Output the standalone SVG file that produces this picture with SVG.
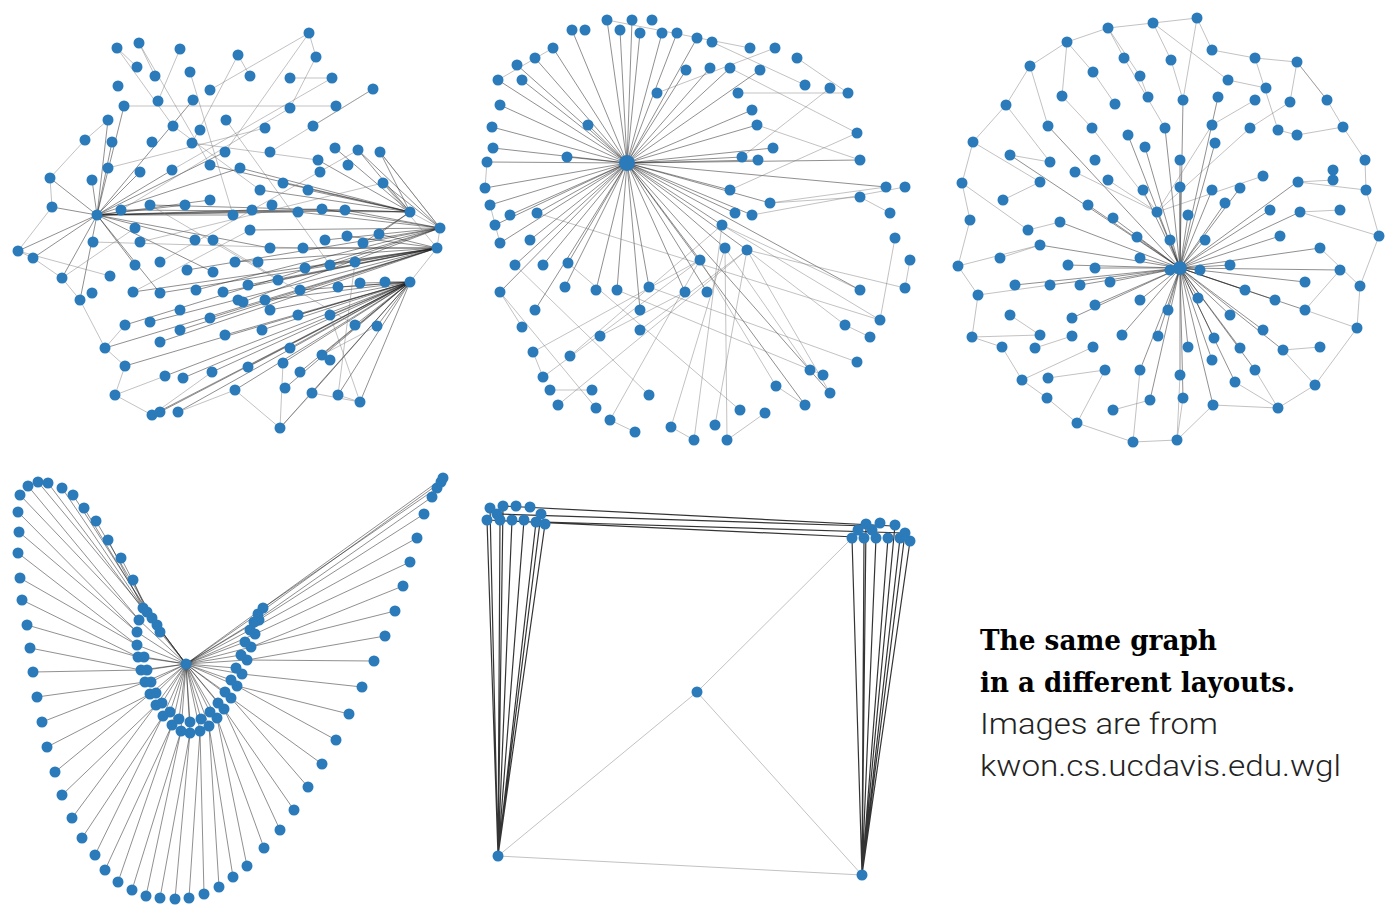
<svg xmlns="http://www.w3.org/2000/svg" width="1400" height="922" viewBox="0 0 1400 922">
<style>
.dk{stroke:#222;stroke-opacity:.5;stroke-width:1;fill:none}
.lt{stroke:#777;stroke-opacity:.45;stroke-width:1;fill:none}
.bk{stroke:#111;stroke-opacity:.85;stroke-width:1.2;fill:none}
.b{font-family:"DejaVu Serif","Liberation Serif",serif;font-weight:bold;font-size:27px;fill:#000}
.l{font-family:Roboto,"Liberation Sans",sans-serif;font-weight:300;font-size:29px;fill:#222}
</style>
<defs><circle id="d" r="5.5" fill="#2b7bba"/></defs>
<rect width="1400" height="922" fill="#fff"/>
<g id="connectors">
<path class="dk" d="M97 215L50 178M97 215L52 207M97 215L18 251M97 215L33 258M97 215L92 180M97 215L108 120M97 215L124 106M97 215L140 172M97 215L172 170M97 215L185 205M97 215L210 200M97 215L233 215M97 215L252 210M97 215L270 248M97 215L298 212M97 215L195 240M97 215L213 272M97 215L160 293M97 215L135 265M97 215L322 209M97 215L345 210M97 215L112 142M97 215L62 278M97 215L80 300M97 215L193 100M97 215L225 152M97 215L240 168"/>
<path class="dk" d="M440 228L298 212M440 228L322 209M440 228L345 210M437 248L303 248M440 228L325 240M437 248L347 236M440 228L363 243M437 248L379 234M437 248L270 248M440 228L250 230M437 248L278 280M437 248L305 268M440 228L330 265M437 248L355 262M437 248L248 285M437 248L223 292M440 228L196 290M437 248L160 293M437 248L133 292M437 248L180 330M437 248L150 322M440 228L125 325M437 248L210 318M440 228L243 302M437 248L105 348M437 248L160 342M440 228L383 183M440 228L380 152M440 228L358 150M440 228L187 270M437 248L235 262"/>
<path class="dk" d="M410 282L385 282M410 282L360 283M410 282L338 287M410 282L300 290M410 282L265 300M410 282L270 310M410 282L298 315M410 282L330 315M410 282L355 325M410 282L377 326M410 282L322 355M410 282L290 348M410 282L262 330M410 282L225 335M410 282L183 378M410 282L165 376M410 282L212 372M410 282L248 367M410 282L283 363M410 282L300 372M410 282L178 412M410 282L160 412M410 282L152 415M410 282L235 390M410 282L285 388M410 282L312 393M410 282L338 395M410 282L360 402M410 282L280 428M410 282L125 366"/>
<path class="dk" d="M410 212L383 183M410 212L380 152M410 212L358 150M410 212L335 148M410 212L318 160M410 212L308 190M410 212L283 183M410 212L260 190M410 212L240 168M410 212L210 165M410 212L345 210M410 212L379 234M410 212L363 243M410 212L150 205M410 212L121 210"/>
<path class="lt" d="M117 48L137 67M139 43L155 76M180 49L158 101M238 55L250 76M309 33L316 57M316 57L290 108M309 33L210 90M373 89L313 126M332 78L290 78M18 251L33 258M33 258L62 278M62 278L80 300M80 300L105 348M105 348L125 366M125 366L115 395M115 395L152 415M178 412L235 390M235 390L280 428M280 428L312 393M312 393L360 402M338 395L360 402M50 178L52 207M18 251L52 207M85 140L50 178M108 120L85 140M380 152L440 228M383 183L437 248M410 212L440 228M440 228L437 248M437 248L410 282M108 168L265 128M124 106L336 106M192 143L318 160M140 242L383 183M93 242L303 248M160 262L358 150M133 292L250 230M213 240L355 325M150 205L278 280M121 210L290 108M173 126L260 190M226 120L330 265M190 72L233 215M139 43L210 165M117 48L173 126M238 55L192 143M309 33L225 152M373 89L270 152M332 78L172 170M18 251L110 276M62 278L135 228M125 325L105 348M115 395L165 376M152 415L212 372M280 428L283 363M360 402L330 315M338 395L355 262M322 355L377 326"/>
<path class="dk" d="M627 163L607 20M627 163L632 20M627 163L572 30M627 163L620 30M627 163L640 33M627 163L662 33M627 163L677 33M627 163L697 38M627 163L553 48M627 163L535 58M627 163L517 65M627 163L498 80M627 163L522 80M627 163L686 70M627 163L710 68M627 163L730 68M627 163L760 70M627 163L500 105M627 163L752 110M627 163L492 127M627 163L757 125M627 163L588 125M627 163L493 148M627 163L773 148M627 163L487 162M627 163L567 157M627 163L742 157M627 163L758 160M627 163L485 188M627 163L730 190M627 163L490 205M627 163L770 203M627 163L510 215M627 163L537 213M627 163L735 213M627 163L752 215M627 163L495 225M627 163L500 243M627 163L725 248M627 163L722 225M627 163L747 250M627 163L530 240M627 163L515 265M627 163L543 265M627 163L568 263M627 163L700 260M627 163L596 290M627 163L617 290M627 163L649 287M627 163L685 292M627 163L707 292M627 163L565 287M627 163L640 310M627 163L500 292M627 163L535 310M627 163L860 290M627 163L805 405M627 163L830 393M627 163L860 160M627 163L886 187"/>
<path class="lt" d="M747 250L830 393M747 250L905 288M722 225L860 290M700 260L610 420M725 248L810 370M568 263L740 410M515 265L649 395M500 292L596 408M730 190L857 133M770 203L886 187M730 68L857 133M797 58L848 93M712 42L805 85M607 20L750 48M553 48L498 80M487 162L485 188M490 205L500 243M500 292L522 327M533 352L543 377M550 390L592 390M610 420L635 432M671 427L694 440M727 440L765 413M776 386L805 405M845 325L870 337M880 320L895 238M910 260L905 288M860 197L890 213M757 125L860 160M742 157L830 88M722 225L570 356M747 250L640 330M700 260L543 377M725 248L671 427M747 250L715 425M700 260L776 386M649 287L857 362M617 290L823 375M685 292L600 336M537 213L880 320M752 215L905 187M770 203L860 197M738 93L848 93M657 93L775 48M747 250L558 405M725 248L727 440M722 225L694 440M700 260L533 352M747 250L845 325M722 225L880 320"/>
<path class="dk" d="M1180 268L1143 190M1180 268L1180 187M1180 268L1212 190M1180 268L1240 188M1180 268L1157 212M1180 268L1188 215M1180 268L1225 203M1180 268L1270 210M1180 268L1300 212M1180 268L1113 218M1180 268L1088 205M1180 268L1060 222M1180 268L1137 237M1180 268L1170 240M1180 268L1205 240M1180 268L1230 265M1180 268L1280 236M1180 268L1320 248M1180 268L1340 270M1180 268L1068 265M1180 268L1095 268M1180 268L1040 245M1180 268L1110 282M1180 268L1140 258M1180 268L1170 270M1180 268L1200 270M1180 268L1245 290M1180 268L1275 300M1180 268L1305 282M1180 268L1140 300M1180 268L1168 310M1180 268L1198 298M1180 268L1230 315M1180 268L1263 330M1180 268L1305 310M1180 268L1122 335M1180 268L1158 336M1180 268L1188 347M1180 268L1214 338M1180 268L1240 348M1180 268L1283 350M1180 268L1140 370M1180 268L1180 375M1180 268L1212 360M1180 268L1235 382M1180 268L1255 370M1180 268L1213 405M1180 268L1183 398M1180 268L1150 400M1180 268L1165 128M1180 268L1180 160M1180 268L1145 147M1180 268L1215 143M1180 268L1128 135M1180 268L1183 100M1180 268L1080 285M1180 268L1095 305M1180 268L1072 318M1180 268L1050 285M1180 268L1015 285M1180 268L1010 155M1180 268L1048 126M1180 268L1218 97M1180 268L1297 182"/>
<path class="lt" d="M1108 28L1153 23M1153 23L1197 18M1067 42L1108 28M1030 66L1067 42M1006 105L1030 66M973 142L1006 105M962 183L973 142M970 220L962 183M958 266L970 220M978 295L958 266M972 337L978 295M1002 347L972 337M1022 380L1002 347M1047 398L1022 380M1077 423L1047 398M1133 442L1077 423M1177 440L1133 442M1213 405L1177 440M1278 408L1315 385M1315 385L1357 328M1357 328L1360 286M1360 286L1379 236M1379 236L1366 190M1366 190L1365 160M1365 160L1343 127M1343 127L1327 100M1327 100L1297 62M1297 62L1255 58M1255 58L1212 50M1212 50L1197 18M1124 58L1165 128M1171 60L1183 100M1093 72L1115 104M1062 96L1092 128M1010 155L1050 162M1003 200L1040 182M1028 230L1060 222M1000 258L1040 245M1010 315L1040 335M1035 348L1072 336M1048 378L1105 370M1113 410L1150 400M1235 382L1278 408M1283 350L1320 347M1305 310L1340 270M1300 212L1340 210M1298 182L1333 180M1278 130L1297 135M1250 128L1290 102M1212 125L1255 100M1140 76L1148 97M1228 80L1266 88M1157 212L1108 180M1157 212L1075 172M1157 212L1212 125M1157 212L1092 128M1157 212L1250 128M1157 212L1263 176M1108 28L1124 58M1153 23L1171 60M1067 42L1093 72M1297 62L1290 102M1213 405L1278 408M1177 440L1183 398M1108 28L1140 76M1197 18L1183 100M1153 23L1228 80M1067 42L1062 96M1030 66L1048 126M1255 58L1278 130M1297 62L1327 100M1006 105L1050 162M973 142L1040 182M962 183L1028 230M958 266L1040 245M978 295L1050 285M972 337L1040 335M1022 380L1093 347M1077 423L1105 370M1133 442L1140 370M1177 440L1180 375M1278 408L1255 370M1315 385L1283 350M1357 328L1305 310M1360 286L1320 248M1379 236L1300 212M1366 190L1298 182M1343 127L1297 135"/>
<path class="dk" d="M186 664L143 608M186 664L139 620M186 664L137 632M186 664L137 645M186 664L138 657M186 664L141 670M186 664L145 682M186 664L150 694M186 664L156 705M186 664L163 716M186 664L172 725M186 664L181 731M186 664L190 733M186 664L200 731M186 664L209 726M186 664L217 718M186 664L224 709M186 664L231 698M186 664L237 686M186 664L242 674M186 664L247 660M186 664L251 647M186 664L255 634M186 664L259 620M186 664L263 608M186 664L147 612M186 664L152 618M186 664L157 625M186 664L160 632M186 664L258 614M186 664L254 622M186 664L250 630M186 664L144 657M186 664L147 670M186 664L151 682M186 664L156 693M186 664L162 703M186 664L170 712M186 664L179 719M186 664L190 722M186 664L201 719M186 664L210 712M186 664L218 703M186 664L225 692M186 664L231 680M186 664L236 668M186 664L241 655M186 664L245 642"/>
<path class="dk" d="M133 580L147 612M121 558L152 618M108 540L143 608M96 521L157 625M84 508L147 612M73 495L152 618M62 488L143 608M48 483L160 632M38 482L143 608M28 486L139 620M20 495L139 620M18 512L137 632M19 532L137 632M18 553L137 645M20 578L137 645M22 600L138 657M27 625L138 657M30 648L141 670M33 672L141 670M37 697L145 682M42 722L145 682M47 747L150 694M55 772L150 694M62 795L156 705M72 818L156 705M82 838L163 716M95 855L163 716M105 870L172 725M118 882L172 725M132 890L181 731M146 896L181 731M160 898L190 733M175 899L190 733M189 898L200 731M204 894L200 731M219 887L209 726M233 877L209 726M247 866L217 718M264 848L217 718M280 830L224 709M294 810L224 709M308 787L231 698M322 764L231 698M336 740L237 686M349 714L237 686M362 687L242 674M374 661L247 660M385 636L247 660M395 611L251 647M403 586L251 647M410 562L255 634M417 538L250 630M424 514L259 620M432 497L254 622M437 488L263 608M441 482L258 614M443 478L263 608"/>
<path class="bk" d="M498 856L487 520M498 856L500 520M498 856L512 520M498 856L524 520M498 856L536 522M498 856L545 524M498 856L490 508M498 856L503 506M498 856L541 514M862 875L852 538M862 875L864 538M862 875L876 538M862 875L888 538M862 875L900 538M862 875L910 541M862 875L866 524M862 875L895 525M862 875L905 533M503 506L893 526M497 514L866 526M487 520L855 537M545 522L905 533"/>
<path class="lt" d="M498 856L697 692M697 692L852 538M697 692L862 875M498 856L862 875"/>
</g>
<g id="nodes" fill="#2b7bba">
<g id="panel1">
<use href="#d" x="117" y="48"/><use href="#d" x="139" y="43"/><use href="#d" x="180" y="49"/><use href="#d" x="238" y="55"/><use href="#d" x="309" y="33"/><use href="#d" x="316" y="57"/><use href="#d" x="137" y="67"/><use href="#d" x="118" y="86"/><use href="#d" x="155" y="76"/><use href="#d" x="190" y="72"/><use href="#d" x="210" y="90"/><use href="#d" x="250" y="76"/><use href="#d" x="290" y="78"/><use href="#d" x="332" y="78"/><use href="#d" x="373" y="89"/><use href="#d" x="124" y="106"/><use href="#d" x="158" y="101"/><use href="#d" x="193" y="100"/><use href="#d" x="108" y="120"/><use href="#d" x="173" y="126"/><use href="#d" x="200" y="130"/><use href="#d" x="226" y="120"/><use href="#d" x="265" y="128"/><use href="#d" x="290" y="108"/><use href="#d" x="336" y="106"/><use href="#d" x="313" y="126"/><use href="#d" x="85" y="140"/><use href="#d" x="112" y="142"/><use href="#d" x="152" y="142"/><use href="#d" x="192" y="143"/><use href="#d" x="225" y="152"/><use href="#d" x="270" y="152"/><use href="#d" x="318" y="160"/><use href="#d" x="335" y="148"/><use href="#d" x="358" y="150"/><use href="#d" x="380" y="152"/><use href="#d" x="50" y="178"/><use href="#d" x="92" y="180"/><use href="#d" x="108" y="168"/><use href="#d" x="140" y="172"/><use href="#d" x="172" y="170"/><use href="#d" x="210" y="165"/><use href="#d" x="240" y="168"/><use href="#d" x="260" y="190"/><use href="#d" x="283" y="183"/><use href="#d" x="308" y="190"/><use href="#d" x="320" y="172"/><use href="#d" x="348" y="165"/><use href="#d" x="52" y="207"/><use href="#d" x="97" y="215"/><use href="#d" x="121" y="210"/><use href="#d" x="150" y="205"/><use href="#d" x="185" y="205"/><use href="#d" x="210" y="200"/><use href="#d" x="233" y="215"/><use href="#d" x="252" y="210"/><use href="#d" x="272" y="205"/><use href="#d" x="298" y="212"/><use href="#d" x="322" y="209"/><use href="#d" x="345" y="210"/><use href="#d" x="383" y="183"/><use href="#d" x="410" y="212"/><use href="#d" x="18" y="251"/><use href="#d" x="33" y="258"/><use href="#d" x="93" y="242"/><use href="#d" x="135" y="228"/><use href="#d" x="140" y="242"/><use href="#d" x="195" y="240"/><use href="#d" x="213" y="240"/><use href="#d" x="250" y="230"/><use href="#d" x="270" y="248"/><use href="#d" x="303" y="248"/><use href="#d" x="325" y="240"/><use href="#d" x="347" y="236"/><use href="#d" x="363" y="243"/><use href="#d" x="379" y="234"/><use href="#d" x="440" y="228"/><use href="#d" x="437" y="248"/><use href="#d" x="62" y="278"/><use href="#d" x="110" y="276"/><use href="#d" x="135" y="265"/><use href="#d" x="160" y="262"/><use href="#d" x="187" y="270"/><use href="#d" x="213" y="272"/><use href="#d" x="235" y="262"/><use href="#d" x="258" y="262"/><use href="#d" x="278" y="280"/><use href="#d" x="305" y="268"/><use href="#d" x="330" y="265"/><use href="#d" x="355" y="262"/><use href="#d" x="410" y="282"/><use href="#d" x="80" y="300"/><use href="#d" x="92" y="293"/><use href="#d" x="133" y="292"/><use href="#d" x="160" y="293"/><use href="#d" x="196" y="290"/><use href="#d" x="223" y="292"/><use href="#d" x="248" y="285"/><use href="#d" x="238" y="300"/><use href="#d" x="265" y="300"/><use href="#d" x="300" y="290"/><use href="#d" x="338" y="287"/><use href="#d" x="360" y="283"/><use href="#d" x="385" y="282"/><use href="#d" x="125" y="325"/><use href="#d" x="150" y="322"/><use href="#d" x="180" y="330"/><use href="#d" x="210" y="318"/><use href="#d" x="243" y="302"/><use href="#d" x="270" y="310"/><use href="#d" x="298" y="315"/><use href="#d" x="330" y="315"/><use href="#d" x="355" y="325"/><use href="#d" x="377" y="326"/><use href="#d" x="105" y="348"/><use href="#d" x="160" y="342"/><use href="#d" x="180" y="310"/><use href="#d" x="225" y="335"/><use href="#d" x="262" y="330"/><use href="#d" x="290" y="348"/><use href="#d" x="322" y="355"/><use href="#d" x="330" y="360"/><use href="#d" x="125" y="366"/><use href="#d" x="165" y="376"/><use href="#d" x="183" y="378"/><use href="#d" x="212" y="372"/><use href="#d" x="248" y="367"/><use href="#d" x="283" y="363"/><use href="#d" x="300" y="372"/><use href="#d" x="115" y="395"/><use href="#d" x="152" y="415"/><use href="#d" x="160" y="412"/><use href="#d" x="178" y="412"/><use href="#d" x="235" y="390"/><use href="#d" x="285" y="388"/><use href="#d" x="312" y="393"/><use href="#d" x="338" y="395"/><use href="#d" x="360" y="402"/><use href="#d" x="280" y="428"/>
</g>
<g id="panel2">
<circle cx="627" cy="163" r="8" fill="#2b7bba"/>
<use href="#d" x="607" y="20"/><use href="#d" x="632" y="20"/><use href="#d" x="652" y="20"/><use href="#d" x="572" y="30"/><use href="#d" x="585" y="30"/><use href="#d" x="620" y="30"/><use href="#d" x="640" y="33"/><use href="#d" x="662" y="33"/><use href="#d" x="677" y="33"/><use href="#d" x="697" y="38"/><use href="#d" x="712" y="42"/><use href="#d" x="750" y="48"/><use href="#d" x="775" y="48"/><use href="#d" x="797" y="58"/><use href="#d" x="553" y="48"/><use href="#d" x="535" y="58"/><use href="#d" x="517" y="65"/><use href="#d" x="498" y="80"/><use href="#d" x="522" y="80"/><use href="#d" x="686" y="70"/><use href="#d" x="710" y="68"/><use href="#d" x="730" y="68"/><use href="#d" x="760" y="70"/><use href="#d" x="805" y="85"/><use href="#d" x="830" y="88"/><use href="#d" x="848" y="93"/><use href="#d" x="657" y="93"/><use href="#d" x="738" y="93"/><use href="#d" x="500" y="105"/><use href="#d" x="752" y="110"/><use href="#d" x="492" y="127"/><use href="#d" x="757" y="125"/><use href="#d" x="857" y="133"/><use href="#d" x="588" y="125"/><use href="#d" x="493" y="148"/><use href="#d" x="773" y="148"/><use href="#d" x="487" y="162"/><use href="#d" x="567" y="157"/><use href="#d" x="742" y="157"/><use href="#d" x="758" y="160"/><use href="#d" x="860" y="160"/><use href="#d" x="485" y="188"/><use href="#d" x="730" y="190"/><use href="#d" x="886" y="187"/><use href="#d" x="905" y="187"/><use href="#d" x="490" y="205"/><use href="#d" x="770" y="203"/><use href="#d" x="860" y="197"/><use href="#d" x="510" y="215"/><use href="#d" x="537" y="213"/><use href="#d" x="735" y="213"/><use href="#d" x="752" y="215"/><use href="#d" x="495" y="225"/><use href="#d" x="890" y="213"/><use href="#d" x="500" y="243"/><use href="#d" x="725" y="248"/><use href="#d" x="722" y="225"/><use href="#d" x="747" y="250"/><use href="#d" x="895" y="238"/><use href="#d" x="530" y="240"/><use href="#d" x="515" y="265"/><use href="#d" x="543" y="265"/><use href="#d" x="568" y="263"/><use href="#d" x="700" y="260"/><use href="#d" x="910" y="260"/><use href="#d" x="596" y="290"/><use href="#d" x="617" y="290"/><use href="#d" x="649" y="287"/><use href="#d" x="685" y="292"/><use href="#d" x="707" y="292"/><use href="#d" x="565" y="287"/><use href="#d" x="640" y="310"/><use href="#d" x="500" y="292"/><use href="#d" x="860" y="290"/><use href="#d" x="905" y="288"/><use href="#d" x="535" y="310"/><use href="#d" x="600" y="336"/><use href="#d" x="640" y="330"/><use href="#d" x="880" y="320"/><use href="#d" x="845" y="325"/><use href="#d" x="522" y="327"/><use href="#d" x="870" y="337"/><use href="#d" x="533" y="352"/><use href="#d" x="570" y="356"/><use href="#d" x="857" y="362"/><use href="#d" x="810" y="370"/><use href="#d" x="543" y="377"/><use href="#d" x="776" y="386"/><use href="#d" x="592" y="390"/><use href="#d" x="649" y="395"/><use href="#d" x="550" y="390"/><use href="#d" x="830" y="393"/><use href="#d" x="823" y="375"/><use href="#d" x="558" y="405"/><use href="#d" x="805" y="405"/><use href="#d" x="765" y="413"/><use href="#d" x="596" y="408"/><use href="#d" x="740" y="410"/><use href="#d" x="610" y="420"/><use href="#d" x="635" y="432"/><use href="#d" x="671" y="427"/><use href="#d" x="694" y="440"/><use href="#d" x="715" y="425"/><use href="#d" x="727" y="440"/>
</g>
<g id="panel3">
<circle cx="1180" cy="268" r="7" fill="#2b7bba"/>
<use href="#d" x="1108" y="28"/><use href="#d" x="1153" y="23"/><use href="#d" x="1197" y="18"/><use href="#d" x="1067" y="42"/><use href="#d" x="1124" y="58"/><use href="#d" x="1171" y="60"/><use href="#d" x="1212" y="50"/><use href="#d" x="1255" y="58"/><use href="#d" x="1297" y="62"/><use href="#d" x="1030" y="66"/><use href="#d" x="1093" y="72"/><use href="#d" x="1140" y="76"/><use href="#d" x="1228" y="80"/><use href="#d" x="1266" y="88"/><use href="#d" x="1006" y="105"/><use href="#d" x="1062" y="96"/><use href="#d" x="1115" y="104"/><use href="#d" x="1148" y="97"/><use href="#d" x="1183" y="100"/><use href="#d" x="1218" y="97"/><use href="#d" x="1255" y="100"/><use href="#d" x="1290" y="102"/><use href="#d" x="1327" y="100"/><use href="#d" x="1048" y="126"/><use href="#d" x="1092" y="128"/><use href="#d" x="1128" y="135"/><use href="#d" x="1165" y="128"/><use href="#d" x="1212" y="125"/><use href="#d" x="1250" y="128"/><use href="#d" x="1278" y="130"/><use href="#d" x="1343" y="127"/><use href="#d" x="973" y="142"/><use href="#d" x="1010" y="155"/><use href="#d" x="1050" y="162"/><use href="#d" x="1095" y="160"/><use href="#d" x="1145" y="147"/><use href="#d" x="1180" y="160"/><use href="#d" x="1215" y="143"/><use href="#d" x="1297" y="135"/><use href="#d" x="1333" y="170"/><use href="#d" x="1365" y="160"/><use href="#d" x="962" y="183"/><use href="#d" x="1003" y="200"/><use href="#d" x="1040" y="182"/><use href="#d" x="1075" y="172"/><use href="#d" x="1108" y="180"/><use href="#d" x="1143" y="190"/><use href="#d" x="1180" y="187"/><use href="#d" x="1212" y="190"/><use href="#d" x="1240" y="188"/><use href="#d" x="1263" y="176"/><use href="#d" x="1298" y="182"/><use href="#d" x="1333" y="180"/><use href="#d" x="970" y="220"/><use href="#d" x="1028" y="230"/><use href="#d" x="1060" y="222"/><use href="#d" x="1088" y="205"/><use href="#d" x="1113" y="218"/><use href="#d" x="1157" y="212"/><use href="#d" x="1188" y="215"/><use href="#d" x="1225" y="203"/><use href="#d" x="1270" y="210"/><use href="#d" x="1300" y="212"/><use href="#d" x="1340" y="210"/><use href="#d" x="1366" y="190"/><use href="#d" x="1379" y="236"/><use href="#d" x="958" y="266"/><use href="#d" x="1000" y="258"/><use href="#d" x="1040" y="245"/><use href="#d" x="1068" y="265"/><use href="#d" x="1095" y="268"/><use href="#d" x="1137" y="237"/><use href="#d" x="1170" y="240"/><use href="#d" x="1205" y="240"/><use href="#d" x="1230" y="265"/><use href="#d" x="1280" y="236"/><use href="#d" x="1320" y="248"/><use href="#d" x="1340" y="270"/><use href="#d" x="1360" y="286"/><use href="#d" x="978" y="295"/><use href="#d" x="1015" y="285"/><use href="#d" x="1050" y="285"/><use href="#d" x="1080" y="285"/><use href="#d" x="1110" y="282"/><use href="#d" x="1140" y="258"/><use href="#d" x="1170" y="270"/><use href="#d" x="1200" y="270"/><use href="#d" x="1245" y="290"/><use href="#d" x="1275" y="300"/><use href="#d" x="1305" y="282"/><use href="#d" x="972" y="337"/><use href="#d" x="1010" y="315"/><use href="#d" x="1040" y="335"/><use href="#d" x="1072" y="318"/><use href="#d" x="1095" y="305"/><use href="#d" x="1140" y="300"/><use href="#d" x="1168" y="310"/><use href="#d" x="1198" y="298"/><use href="#d" x="1230" y="315"/><use href="#d" x="1263" y="330"/><use href="#d" x="1305" y="310"/><use href="#d" x="1357" y="328"/><use href="#d" x="1002" y="347"/><use href="#d" x="1035" y="348"/><use href="#d" x="1072" y="336"/><use href="#d" x="1093" y="347"/><use href="#d" x="1122" y="335"/><use href="#d" x="1158" y="336"/><use href="#d" x="1188" y="347"/><use href="#d" x="1214" y="338"/><use href="#d" x="1240" y="348"/><use href="#d" x="1283" y="350"/><use href="#d" x="1320" y="347"/><use href="#d" x="1048" y="378"/><use href="#d" x="1105" y="370"/><use href="#d" x="1140" y="370"/><use href="#d" x="1180" y="375"/><use href="#d" x="1212" y="360"/><use href="#d" x="1235" y="382"/><use href="#d" x="1255" y="370"/><use href="#d" x="1022" y="380"/><use href="#d" x="1047" y="398"/><use href="#d" x="1113" y="410"/><use href="#d" x="1150" y="400"/><use href="#d" x="1183" y="398"/><use href="#d" x="1213" y="405"/><use href="#d" x="1278" y="408"/><use href="#d" x="1315" y="385"/><use href="#d" x="1077" y="423"/><use href="#d" x="1133" y="442"/><use href="#d" x="1177" y="440"/>
</g>
<g id="panel4">
<use href="#d" x="133" y="580"/><use href="#d" x="121" y="558"/><use href="#d" x="108" y="540"/><use href="#d" x="96" y="521"/><use href="#d" x="84" y="508"/><use href="#d" x="73" y="495"/><use href="#d" x="62" y="488"/><use href="#d" x="48" y="483"/><use href="#d" x="38" y="482"/><use href="#d" x="28" y="486"/><use href="#d" x="20" y="495"/><use href="#d" x="18" y="512"/><use href="#d" x="19" y="532"/><use href="#d" x="18" y="553"/><use href="#d" x="20" y="578"/><use href="#d" x="22" y="600"/><use href="#d" x="27" y="625"/><use href="#d" x="30" y="648"/><use href="#d" x="33" y="672"/><use href="#d" x="37" y="697"/><use href="#d" x="42" y="722"/><use href="#d" x="47" y="747"/><use href="#d" x="55" y="772"/><use href="#d" x="62" y="795"/><use href="#d" x="72" y="818"/><use href="#d" x="82" y="838"/><use href="#d" x="95" y="855"/><use href="#d" x="105" y="870"/><use href="#d" x="118" y="882"/><use href="#d" x="132" y="890"/><use href="#d" x="146" y="896"/><use href="#d" x="160" y="898"/><use href="#d" x="175" y="899"/><use href="#d" x="189" y="898"/><use href="#d" x="204" y="894"/><use href="#d" x="219" y="887"/><use href="#d" x="233" y="877"/><use href="#d" x="247" y="866"/><use href="#d" x="264" y="848"/><use href="#d" x="280" y="830"/><use href="#d" x="294" y="810"/><use href="#d" x="308" y="787"/><use href="#d" x="322" y="764"/><use href="#d" x="336" y="740"/><use href="#d" x="349" y="714"/><use href="#d" x="362" y="687"/><use href="#d" x="374" y="661"/><use href="#d" x="385" y="636"/><use href="#d" x="395" y="611"/><use href="#d" x="403" y="586"/><use href="#d" x="410" y="562"/><use href="#d" x="417" y="538"/><use href="#d" x="424" y="514"/><use href="#d" x="432" y="497"/><use href="#d" x="437" y="488"/><use href="#d" x="441" y="482"/><use href="#d" x="443" y="478"/>
<use href="#d" x="143" y="608"/><use href="#d" x="139" y="620"/><use href="#d" x="137" y="632"/><use href="#d" x="137" y="645"/><use href="#d" x="138" y="657"/><use href="#d" x="141" y="670"/><use href="#d" x="145" y="682"/><use href="#d" x="150" y="694"/><use href="#d" x="156" y="705"/><use href="#d" x="163" y="716"/><use href="#d" x="172" y="725"/><use href="#d" x="181" y="731"/><use href="#d" x="190" y="733"/><use href="#d" x="200" y="731"/><use href="#d" x="209" y="726"/><use href="#d" x="217" y="718"/><use href="#d" x="224" y="709"/><use href="#d" x="231" y="698"/><use href="#d" x="237" y="686"/><use href="#d" x="242" y="674"/><use href="#d" x="247" y="660"/><use href="#d" x="251" y="647"/><use href="#d" x="255" y="634"/><use href="#d" x="259" y="620"/><use href="#d" x="263" y="608"/><use href="#d" x="147" y="612"/><use href="#d" x="152" y="618"/><use href="#d" x="157" y="625"/><use href="#d" x="160" y="632"/><use href="#d" x="258" y="614"/><use href="#d" x="254" y="622"/><use href="#d" x="250" y="630"/>
<use href="#d" x="144" y="657"/><use href="#d" x="147" y="670"/><use href="#d" x="151" y="682"/><use href="#d" x="156" y="693"/><use href="#d" x="162" y="703"/><use href="#d" x="170" y="712"/><use href="#d" x="179" y="719"/><use href="#d" x="190" y="722"/><use href="#d" x="201" y="719"/><use href="#d" x="210" y="712"/><use href="#d" x="218" y="703"/><use href="#d" x="225" y="692"/><use href="#d" x="231" y="680"/><use href="#d" x="236" y="668"/><use href="#d" x="241" y="655"/><use href="#d" x="245" y="642"/><use href="#d" x="186" y="664"/>
</g>
<g id="panel5">
<use href="#d" x="487" y="520"/><use href="#d" x="500" y="520"/><use href="#d" x="512" y="520"/><use href="#d" x="524" y="520"/><use href="#d" x="536" y="522"/><use href="#d" x="545" y="524"/><use href="#d" x="490" y="508"/><use href="#d" x="503" y="506"/><use href="#d" x="516" y="506"/><use href="#d" x="530" y="507"/><use href="#d" x="541" y="514"/><use href="#d" x="497" y="514"/>
<use href="#d" x="852" y="538"/><use href="#d" x="864" y="538"/><use href="#d" x="876" y="538"/><use href="#d" x="888" y="538"/><use href="#d" x="900" y="538"/><use href="#d" x="910" y="541"/><use href="#d" x="866" y="524"/><use href="#d" x="880" y="523"/><use href="#d" x="895" y="525"/><use href="#d" x="905" y="533"/><use href="#d" x="858" y="530"/><use href="#d" x="872" y="530"/>
<use href="#d" x="498" y="856"/><use href="#d" x="862" y="875"/><use href="#d" x="697" y="692"/>
</g>
</g>
<g id="caption">
<text class="b" x="980" y="650" textLength="237" lengthAdjust="spacingAndGlyphs">The same graph</text>
<text class="b" x="980" y="692" textLength="315" lengthAdjust="spacingAndGlyphs">in a different layouts.</text>
<text class="l" x="980" y="734" textLength="238" lengthAdjust="spacingAndGlyphs">Images are from</text>
<text class="l" x="980" y="776" textLength="361" lengthAdjust="spacingAndGlyphs">kwon.cs.ucdavis.edu.wgl</text>
</g>
</svg>
